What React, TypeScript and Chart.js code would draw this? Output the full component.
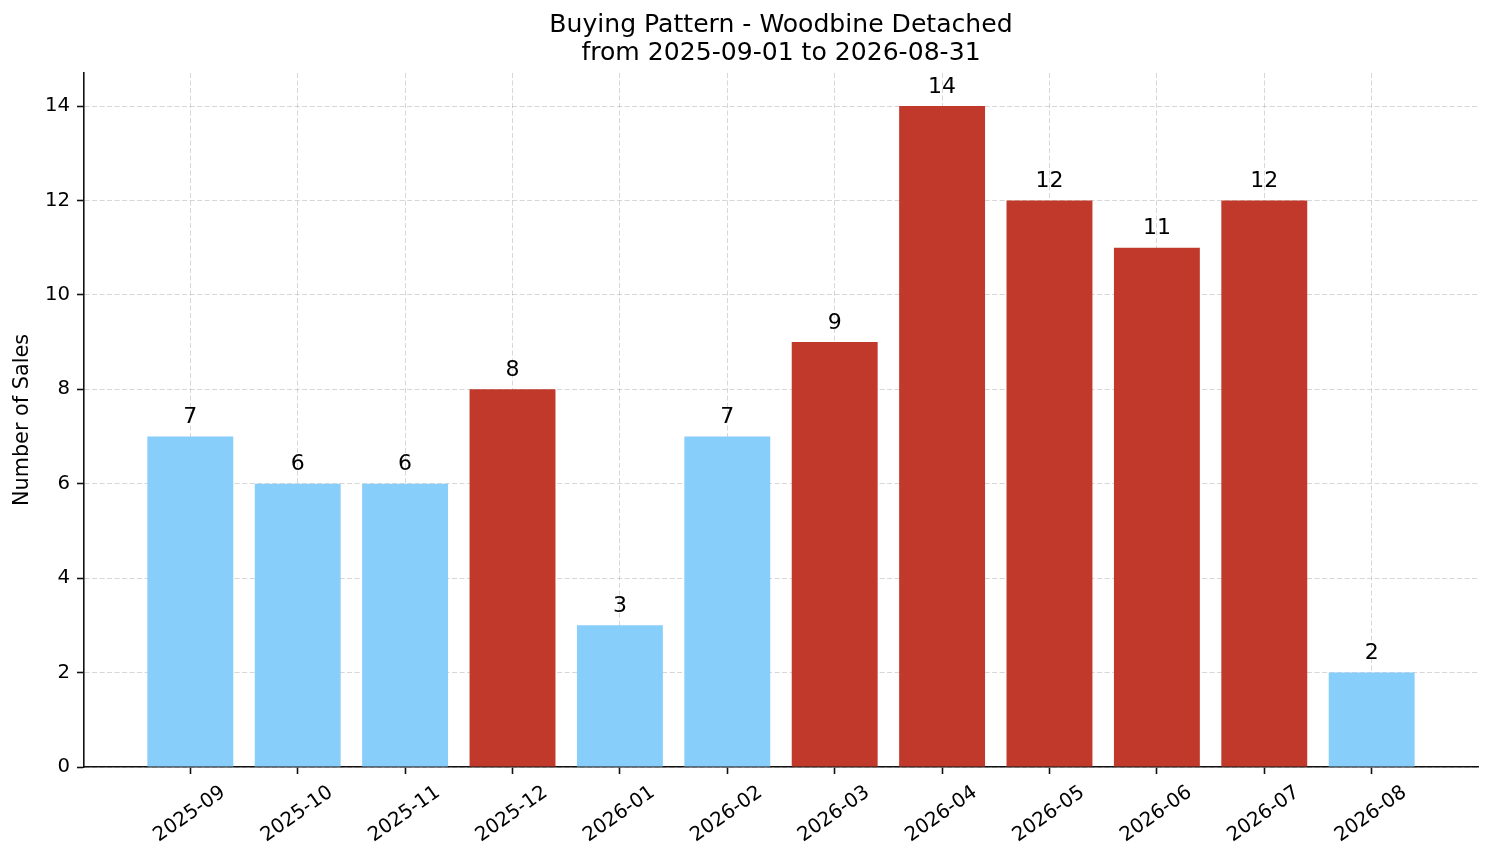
import React, { useEffect, useRef } from 'react';
import { Chart, registerables } from 'chart.js';

Chart.register(...registerables);

const months = [
  '2025-09', '2025-10', '2025-11', '2025-12', '2026-01', '2026-02',
  '2026-03', '2026-04', '2026-05', '2026-06', '2026-07', '2026-08',
];
const sales = [7, 6, 6, 8, 3, 7, 9, 14, 12, 11, 12, 2];
const yTicks = [0, 2, 4, 6, 8, 10, 12, 14];
const titleLines = ['Buying Pattern - Woodbine Detached', 'from 2025-09-01 to 2026-08-31'];

const BLUE = '#87CEFA';
const RED = '#C0392B';
const FONT = "'DejaVu Sans', sans-serif";
const GRID = 'rgba(176,176,176,0.5)';

// busy months (above the median) are shown in red
const sorted = [...sales].sort((a, b) => a - b);
const median = (sorted[5] + sorted[6]) / 2;

const barLabels = {
  id: 'barLabels',
  afterDatasetsDraw(chart: any) {
    const { ctx } = chart;
    const meta = chart.getDatasetMeta(0);
    ctx.save();
    ctx.font = `22px ${FONT}`;
    ctx.fillStyle = '#000';
    ctx.textAlign = 'center';
    ctx.textBaseline = 'alphabetic';
    meta.data.forEach((bar: any, i: number) => {
      ctx.fillText(String(sales[i]), bar.x, bar.y - 13.5);
    });
    ctx.restore();
  },
};

const BuyingPatternChart: React.FC = () => {
  const chartRef = useRef<HTMLCanvasElement>(null);
  const chartInstance = useRef<Chart | null>(null);

  useEffect(() => {
    if (!chartRef.current) return;
    if (chartInstance.current) chartInstance.current.destroy();
    const ctx = chartRef.current.getContext('2d');
    if (!ctx) return;

    chartInstance.current = new Chart(ctx, {
      type: 'bar',
      data: {
        datasets: [
          {
            label: 'Sales',
            data: sales.map((v, i) => ({ x: i, y: v })),
            backgroundColor: sales.map((v) => (v > median ? RED : BLUE)),
            borderWidth: 0,
            categoryPercentage: 0.8,
            barPercentage: 1,
          },
        ],
      },
      plugins: [barLabels],
      options: {
        responsive: true,
        maintainAspectRatio: false,
        animation: false,
        layout: { padding: { top: 0, right: 16, bottom: 0, left: 0 } },
        scales: {
          x: {
            type: 'linear',
            min: -0.99,
            max: 11.99,
            offset: false,
            z: 1,
            afterBuildTicks: (axis: any) => {
              axis.ticks = months.map((_, i) => ({ value: i }));
            },
            afterFit: (axis: any) => {
              axis.height = 96;
            },
            grid: {
              offset: false,
              color: GRID,
              lineWidth: 1,
              tickLength: 7,
              tickColor: '#111',
              tickWidth: 1.6,
              tickBorderDash: [],
            },
            border: { display: true, color: '#111', width: 1.6, dash: [5, 2.5] },
            ticks: {
              autoSkip: false,
              minRotation: 35,
              maxRotation: 35,
              padding: 7,
              labelOffset: 33,
              color: '#000',
              font: { family: FONT, size: 19.7 },
              callback: (v: any) => months[v] ?? '',
            },
          },
          y: {
            type: 'linear',
            min: 0,
            max: 14.7,
            z: 1,
            afterBuildTicks: (axis: any) => {
              axis.ticks = yTicks.map((v) => ({ value: v }));
            },
            afterFit: (axis: any) => {
              axis.width = 84;
            },
            grid: {
              color: GRID,
              lineWidth: 1,
              tickLength: 7,
              tickColor: '#111',
              tickWidth: 1.6,
              tickBorderDash: [],
            },
            border: { display: true, color: '#111', width: 1.6, dash: [5, 2.5] },
            ticks: {
              padding: 7,
              color: '#000',
              font: { family: FONT, size: 19.7 },
            },
            title: {
              display: true,
              text: 'Number of Sales',
              color: '#000',
              font: { family: FONT, size: 20.8 },
              padding: { top: 10.5, bottom: 0 },
            },
          },
        },
        plugins: {
          legend: { display: false },
          tooltip: { enabled: false },
          title: {
            display: true,
            text: titleLines,
            fullSize: false,
            color: '#000',
            font: { family: FONT, size: 25.1, weight: 'normal', lineHeight: 1.12 },
            padding: { top: 11.5, bottom: 5.3 },
          },
        },
      },
    } as any);

    return () => {
      chartInstance.current?.destroy();
      chartInstance.current = null;
    };
  }, []);

  return (
    <div style={{ position: 'absolute', left: 0, top: 0, width: 1494, height: 863, background: '#fff' }}>
      <canvas ref={chartRef}></canvas>
    </div>
  );
};

export default function App() {
  return <BuyingPatternChart />;
}
